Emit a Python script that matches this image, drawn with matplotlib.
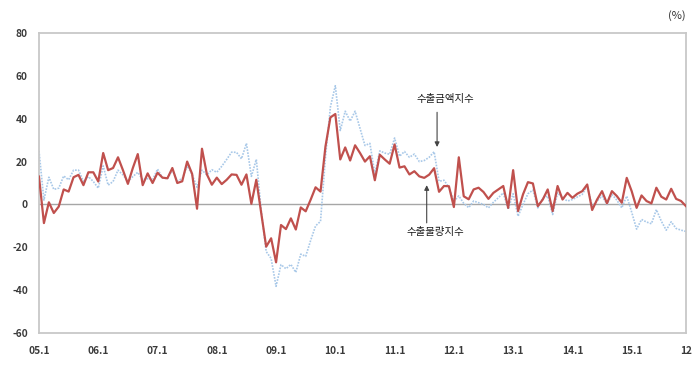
import matplotlib
matplotlib.use("Agg")
import matplotlib.pyplot as plt
import numpy as np

plt.rcParams['font.family'] = ['Noto Sans CJK KR', 'DejaVu Sans']

# Monthly growth rates (%), 2005.1 - 2015.12
volume_index = [
    13, -8.7, 1, -4, -1, 7, 6, 12.7, 13.8, 9,
    15, 15, 10.7, 24, 16, 17, 22, 16, 9.6, 17,
    23.5, 9, 14.5, 10, 14.8, 12.5, 12.2, 17, 10, 10.8,
    20, 14.3, -2, 26, 14, 9.2, 12.5, 9.5, 11.5, 14,
    13.8, 9.2, 14, 0.3, 11.5, -4, -19.7, -15.8, -27, -9.6,
    -11.5, -6.5, -11.7, -1.4, -3.2, 2.2, 8, 6, 27, 40.6,
    42.2, 21, 26.6, 20.5, 27.6, 24, 20, 22.5, 11.3, 23.2,
    21, 19, 28, 17.2, 17.8, 14, 15.5, 13.1, 12.4, 13.9,
    16.9, 5.9, 8.6, 8.5, -1.2, 22, 3.8, 2.4, 7, 7.8,
    5.8, 2.6, 5.4, 7, 8.6, -1.6, 16, -3.1, 4.7, 10.4,
    9.8, -0.8, 2.3, 7, -3.1, 8.6, 2.3, 5.4, 3.1, 5,
    6.2, 9.3, -2.6, 2.3, 6.2, 0.5, 6.2, 3.9, 0.8, 12.4,
    6.2, -1.6, 4.2, 1.6, 0.5, 7.8, 3.6, 2.3, 7.3, 2.6,
    1.6, -0.8,
]

value_index = [
    25, 2, 12.7, 7, 7.6, 13.3, 11.5, 16, 16, 10.7,
    13, 10.7, 7.6, 18, 9, 10.7, 16, 13.8, 10.7, 13,
    15, 11.5, 12, 11.5, 16.5, 12.5, 12, 16, 11, 12,
    18, 14, 8, 16, 13.8, 16.2, 15, 17.8, 21, 24.4,
    24.3, 21.3, 28.5, 13.1, 21, -3, -22, -25.2, -38.2, -28.1,
    -30, -28, -31.7, -23.2, -24.2, -16.8, -10, -7.9, 22, 45.5,
    55.4, 34.5, 43.5, 38.9, 43.5, 35.5, 27.5, 28.5, 14.3, 25,
    24, 23.4, 31, 22.5, 24.7, 22, 23.5, 20, 20.5, 22,
    24.6, 10.8, 11.3, 8, 1.5, 4, 0.5, -1.5, 1.6, 0.8,
    0, -1.6, 1, 3.1, 5.4, -2.3, 5, -5.5, 0, 5,
    6.7, -1.6, 3, 3.9, -4.7, 5.4, 3, 1.6, 2.3, 3.5,
    4.7, 8.6, -0.8, 1.6, 3.9, 0, 4.7, 2, -1.6, 3.9,
    -3.6, -11.5, -7, -8.2, -9, -2.4, -7.8, -12, -8.1, -11.2,
    -12, -12.6,
]

x_tick_labels = ['05.1', '06.1', '07.1', '08.1', '09.1', '10.1', '11.1',
                 '12.1', '13.1', '14.1', '15.1', '12']
y_ticks = [-60, -40, -20, 0, 20, 40, 60, 80]

label_value = '수출금액지수'
label_volume = '수출물량지수'

x = np.arange(len(volume_index))

fig = plt.figure(figsize=(7.0, 3.73), dpi=100)
ax = fig.add_axes([0.0557, 0.1072, 0.9243, 0.8043])

ax.plot(x, value_index, color='#A8C8E8', lw=1.2, ls=(0, (1, 0.8)), zorder=2)
ax.plot(x, volume_index, color='#C0504D', lw=1.6, zorder=3)
ax.axhline(0, color='#A6A6A6', lw=1.0, zorder=1)

ax.set_xlim(0, len(x) - 1)
ax.set_ylim(-60, 80)
ax.set_yticks(y_ticks)
ax.set_yticklabels([str(v) for v in y_ticks])
xt = list(range(0, 121, 12)) + [len(x) - 1]
ax.set_xticks(xt)
ax.set_xticklabels(x_tick_labels)

for lab in ax.get_xticklabels() + ax.get_yticklabels():
    lab.set_fontweight('bold')
    lab.set_fontsize(7.3)
    lab.set_color('#3A3A3A')
ax.tick_params(axis='both', length=0)
ax.tick_params(axis='y', pad=8)
ax.tick_params(axis='x', pad=9)

for s in ax.spines.values():
    s.set_color('#C8C8C8')
    s.set_linewidth(1.3)

# annotations
ax.text(82.2, 49.2, label_value, ha='center', va='center', fontsize=7.5,
        fontweight='medium', color='#1A1A1A')
ax.annotate('', xy=(80.6, 26.8), xytext=(80.6, 43.0),
            arrowprops=dict(arrowstyle='-|>', color='#444444', lw=0.8,
                            mutation_scale=7, shrinkA=0, shrinkB=0))
ax.text(80.2, -12.8, label_volume, ha='center', va='center', fontsize=7.5,
        fontweight='medium', color='#1A1A1A')
ax.annotate('', xy=(78.5, 9.0), xytext=(78.5, -8.6),
            arrowprops=dict(arrowstyle='-|>', color='#444444', lw=0.8,
                            mutation_scale=7, shrinkA=0, shrinkB=0))

fig.text(677 / 700, 1 - 16 / 373, '(%)', ha='center', va='center', fontsize=8, color='#333333')

fig.savefig('out.png', dpi=100, facecolor='white')
